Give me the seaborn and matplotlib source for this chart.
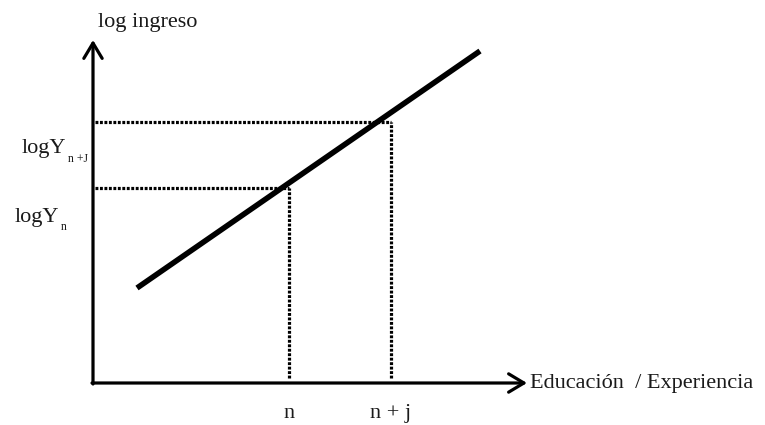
import matplotlib
matplotlib.use("Agg")
import matplotlib.pyplot as plt
import pandas as pd
import seaborn as sns

# Schooling/experience vs. log earnings (schematic units, origin at the axes corner)
educacion = [44, 387]
log_ingreso = [95, 332]

# Reference points on each axis
n_pts = [196, 298]
x_labels = ["n", "n + j"]
logy_levels = [195, 261]
logy_main = ["logY", "logY"]
logy_sub = ["n", "n +J"]

# Axis extents
x_axis_end = 434
y_axis_end = 343

sns.set_theme(style="white")
plt.rcParams["font.family"] = ["Liberation Serif", "DejaVu Serif"]

fig = plt.figure(figsize=(7.65, 4.25), dpi=100)
ax = fig.add_axes([0, 0, 1, 1])
ax.set_xlim(-93, 672)
ax.set_ylim(-42, 383)
ax.axis("off")

txt_color = "#1a1a1a"
fs = 16

# Axes with open arrowheads
arrow = dict(arrowstyle="->,head_length=0.55,head_width=0.33", lw=2.3,
             color="black", mutation_scale=20, shrinkA=0, shrinkB=0)
ax.annotate("", xy=(0, y_axis_end), xytext=(0, -1), arrowprops=arrow)
ax.annotate("", xy=(x_axis_end, 0), xytext=(-1, 0), arrowprops=arrow)

# Dotted guides from the income line to both axes
dot_kw = dict(color="black", lw=2.3, linestyle=(0, (0.9, 0.5)),
              solid_capstyle="butt", dash_capstyle="butt")
for xv, yv in zip(n_pts, logy_levels):
    ax.plot([1.5, xv], [yv, yv], **dot_kw)
    ax.plot([xv, xv], [5, yv], **dot_kw)

# Income profile
df = pd.DataFrame({"educacion": educacion, "log_ingreso": log_ingreso})
sns.lineplot(data=df, x="educacion", y="log_ingreso", ax=ax, color="black",
             lw=4.0, solid_capstyle="butt", legend=False)
ax.set_xlabel("")
ax.set_ylabel("")
ax.axis("off")

# Axis titles
ax.text(5, 361, "log ingreso", fontsize=fs, color=txt_color, ha="left", va="center")
ax.text(437, -0.5, "Educación  / Experiencia", fontsize=fs, color=txt_color,
        ha="left", va="center")

# Tick-like labels under the x axis
for xv, lab in zip(n_pts, x_labels):
    ax.text(xv, -35, lab, fontsize=fs, color=txt_color, ha="center", va="baseline")

# Level labels to the left of the y axis
logy_x = [-78, -71]
logy_base = [161, 230]
sub_drop = [8, 9]
for xl, yb, drop, main, sub in zip(logy_x, logy_base, sub_drop, logy_main, logy_sub):
    t = ax.text(xl, yb, main, fontsize=fs, color=txt_color, ha="left", va="baseline")
    fig.canvas.draw()
    bb = t.get_window_extent().transformed(ax.transData.inverted())
    ax.text(bb.x1 + 1.5, yb - drop, sub, fontsize=8.5, color=txt_color,
            ha="left", va="baseline")

fig.savefig("out.png", dpi=100)
